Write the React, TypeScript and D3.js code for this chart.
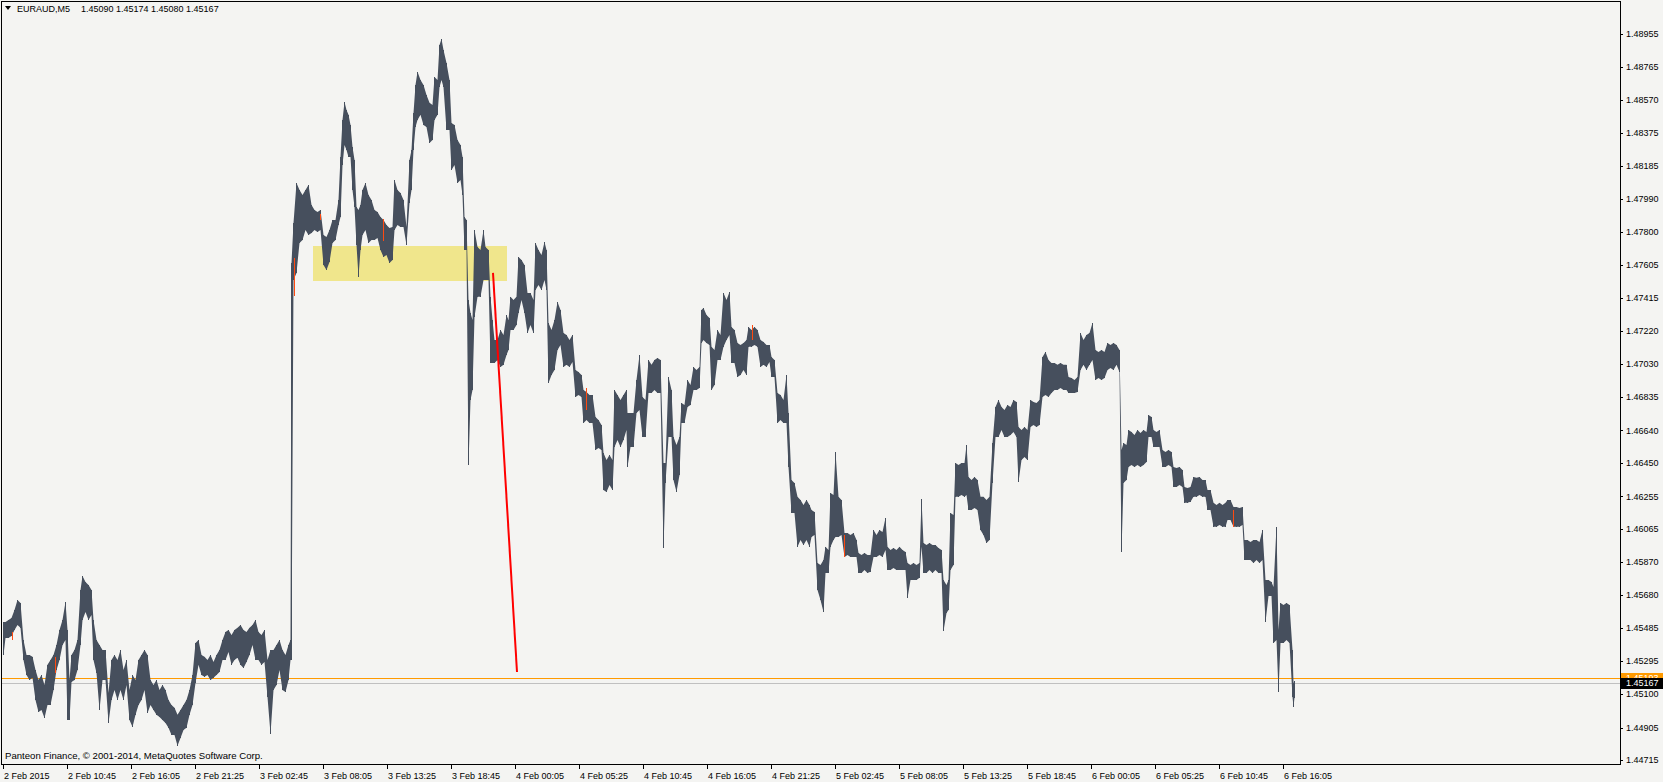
import React from 'react';
import * as d3 from 'd3';

// ---- Data (EURAUD M5, bar index -> high / low) ----
const yTickValues = [1.48955, 1.48765, 1.4857, 1.48375, 1.48185, 1.4799, 1.478, 1.47605, 1.47415, 1.4722, 1.4703, 1.46835, 1.4664, 1.4645, 1.46255, 1.46065, 1.4587, 1.4568, 1.45485, 1.45295, 1.451, 1.44905, 1.44715];
const xTickLabels = ['2 Feb 2015', '2 Feb 10:45', '2 Feb 16:05', '2 Feb 21:25', '3 Feb 02:45', '3 Feb 08:05', '3 Feb 13:25', '3 Feb 18:45', '4 Feb 00:05', '4 Feb 05:25', '4 Feb 10:45', '4 Feb 16:05', '4 Feb 21:25', '5 Feb 02:45', '5 Feb 08:05', '5 Feb 13:25', '5 Feb 18:45', '6 Feb 00:05', '6 Feb 05:25', '6 Feb 10:45', '6 Feb 16:05'];
const barsPerLabel = 64;
const totalBars = 1292;

const barsFeb2: number[][] = [
  [0,1.45521,1.45329],[2,1.45521,1.45428],[5,1.45533,1.45428],[8,1.45545,1.4544],[11,1.45592,1.45475],[14,1.4565,1.45504],[17,1.45632,1.45487],[20,1.45416,1.453],[23,1.45329,1.45212],[26,1.45329,1.45183],[29,1.45318,1.45195],[32,1.45241,1.45066],[35,1.45183,1.44996],[38,1.45212,1.45008],[41,1.45154,1.44961],[44,1.45271,1.45037],[47,1.453,1.45037],[50,1.45329,1.45124],[53,1.45387,1.45241],[56,1.45475,1.453],[59,1.45533,1.45387],[62,1.45638,1.45416],[64,1.45475,1.44949],[66,1.45183,1.44949],[68,1.45329,1.45171],[71,1.45358,1.45183],[74,1.45416,1.45241],[77,1.45708,1.45387],[79,1.4579,1.45533],[82,1.45755,1.4558],[85,1.45738,1.45533],[88,1.45708,1.45562],[90,1.45533,1.453],[93,1.45416,1.45224],[96,1.45387,1.45008],[99,1.45358,1.45183],[102,1.45358,1.45183],[105,1.45107,1.44931],[108,1.453,1.45066],[111,1.45329,1.45124],[114,1.453,1.45066],[117,1.45358,1.45124],[120,1.45241,1.45066],[123,1.453,1.45154],[126,1.45124,1.44949],[129,1.45212,1.44908],[132,1.45183,1.44979],[135,1.453,1.45037],[138,1.45329,1.45066],[141,1.45358,1.45124],[144,1.45329,1.4499],[147,1.45183,1.45037],[150,1.45154,1.45008],[153,1.45183,1.44979],[156,1.45124,1.44967],[159,1.45154,1.44949],[162,1.45124,1.44931],[165,1.45066,1.44903],[168,1.45037,1.44862],[171,1.4502,1.44862],[174,1.44979,1.44798],[177,1.45008,1.44844],[180,1.45037,1.44891],[183,1.45066,1.44903],[186,1.45124,1.44979],[189,1.45212,1.45037],[192,1.45399,1.45165],[195,1.45416,1.45271],[198,1.45329,1.45212],[201,1.45318,1.45201],[204,1.453,1.45212],[207,1.45329,1.45183],[210,1.45288,1.45195],[213,1.45329,1.45212],[216,1.45358,1.4523],[219,1.45416,1.453],[222,1.45463,1.453],[225,1.45475,1.45346],[228,1.45446,1.45271],[231,1.45475,1.453],[234,1.45487,1.45312],[237,1.45504,1.45271],[240,1.45475,1.45253],[243,1.45463,1.45288],[246,1.45487,1.45329],[249,1.45504,1.45387],[252,1.45533,1.453],[255,1.45463,1.453],[258,1.45446,1.45271],[261,1.45475,1.45288],[264,1.453,1.45084],[267,1.45358,1.44867],[270,1.45358,1.45124],[273,1.45387,1.45154],[276,1.45416,1.45241],[279,1.45358,1.45124],[282,1.45329,1.45113],[285,1.45387,1.45183],[287,1.45416,1.453],[288,1.47618,1.453],
];
const barsFeb3: number[][] = [
  [290,1.47852,1.47519],[293,1.48085,1.4756],[296,1.48044,1.47735],[299,1.48015,1.47752],[302,1.48044,1.47811],[305,1.48074,1.47782],[308,1.47957,1.47793],[311,1.47928,1.47811],[314,1.47916,1.47799],[317,1.47928,1.47811],[320,1.47782,1.47606],[323,1.4777,1.47577],[326,1.47811,1.47624],[329,1.47869,1.47735],[332,1.47869,1.47752],[335,1.47986,1.4784],[337,1.48237,1.47887],[339,1.48453,1.4819],[341,1.48558,1.48307],[343,1.48512,1.48278],[345,1.48483,1.48237],[347,1.48424,1.48237],[349,1.48295,1.48044],[351,1.4822,1.47945],[353,1.47945,1.47723],[355,1.47928,1.47536],[357,1.47957,1.47694],[359,1.48044,1.47782],[362,1.48085,1.47811],[365,1.48015,1.47735],[368,1.47986,1.47752],[371,1.47928,1.47752],[374,1.47916,1.47764],[377,1.47887,1.47694],[380,1.47869,1.47653],[383,1.4784,1.47665],[386,1.47822,1.47618],[389,1.47828,1.47636],[391,1.48103,1.47811],[394,1.48044,1.4784],[397,1.48027,1.47828],[400,1.47986,1.47828],[403,1.47828,1.47723],[406,1.4822,1.47968],[408,1.48278,1.48044],[410,1.48494,1.48278],[412,1.48658,1.48412],[414,1.48734,1.48453],[417,1.48687,1.48483],[420,1.48658,1.48424],[423,1.48599,1.48412],[426,1.48553,1.48319],[429,1.48541,1.48336],[431,1.48704,1.48453],[434,1.48687,1.48483],[436,1.48891,1.48646],[438,1.48926,1.48687],[440,1.48862,1.48646],[443,1.48786,1.48395],[446,1.48687,1.48395],[448,1.48436,1.48161],[451,1.48424,1.4819],[454,1.48336,1.48085],[457,1.48307,1.48103],[459,1.48237,1.48015],[461,1.47887,1.47694],[463,1.47869,1.47694],[465,1.47402,1.46438],[467,1.47326,1.46818],[469,1.47285,1.46876],[471,1.47811,1.47303],[474,1.47711,1.4742],[477,1.47694,1.4742],[480,1.47811,1.47519],[482,1.47711,1.47519],[485,1.47694,1.47519],[487,1.4742,1.47034],[489,1.47285,1.47034],[491,1.47168,1.47034],[494,1.47168,1.47052],[497,1.47227,1.47011],[500,1.47198,1.47023],[503,1.47314,1.47081],[505,1.47285,1.4711],[507,1.4742,1.47227],[510,1.47402,1.47227],[513,1.4742,1.47256],[515,1.47653,1.47326],[518,1.47636,1.47402],[521,1.47606,1.47326],[524,1.47443,1.47209],[527,1.47443,1.47256],[530,1.47402,1.47209],[532,1.47735,1.4746],[535,1.47694,1.4749],[538,1.47665,1.4746],[541,1.47741,1.47519],[543,1.47694,1.4746],[545,1.47268,1.46917],[548,1.47227,1.46964],[551,1.47285,1.46993],[554,1.4739,1.4711],[557,1.47344,1.47139],[560,1.47209,1.47011],[563,1.47198,1.47023],[566,1.47168,1.47011],[569,1.47198,1.4704],[572,1.46993,1.46835],[575,1.46981,1.46847],[578,1.46964,1.46835],[580,1.46876,1.46684],[583,1.46864,1.46701],[586,1.46847,1.46684],[589,1.46847,1.46684],[592,1.46719,1.46526],[595,1.46701,1.46538],[598,1.46672,1.46526],[600,1.46508,1.46292],[603,1.46468,1.46281],[606,1.46497,1.46322],[609,1.46468,1.46292],[611,1.46876,1.46543],[614,1.46847,1.46584],[617,1.46818,1.46543],[620,1.46847,1.46584],[623,1.46876,1.46643],[624,1.46742,1.46427],[627,1.46742,1.46543],
];
const barsFeb4: number[][] = [
  [630,1.46742,1.46543],[633,1.46935,1.46742],[636,1.47081,1.4676],[639,1.46835,1.46602],[642,1.46818,1.46602],[645,1.47052,1.46859],[648,1.47023,1.46859],[651,1.47052,1.46876],[654,1.47063,1.46859],[657,1.47052,1.46859],[660,1.4645,1.45954],[662,1.4645,1.46333],[665,1.46952,1.46602],[668,1.46876,1.46602],[670,1.46602,1.46351],[673,1.46555,1.46281],[676,1.46602,1.4638],[678,1.468,1.46684],[681,1.46789,1.46684],[684,1.46935,1.46777],[687,1.46906,1.46789],[690,1.47011,1.46876],[693,1.46993,1.46876],[696,1.47011,1.46888],[698,1.47344,1.47151],[700,1.47355,1.47168],[703,1.47314,1.47151],[706,1.47297,1.47139],[708,1.47128,1.46876],[711,1.4711,1.46906],[714,1.47227,1.47052],[717,1.47198,1.47052],[720,1.47443,1.47128],[723,1.47402,1.47168],[726,1.47449,1.47198],[728,1.47244,1.47034],[731,1.47227,1.47034],[734,1.47151,1.46952],[737,1.47139,1.46964],[740,1.47151,1.46993],[743,1.47168,1.46964],[745,1.47244,1.47128],[748,1.47227,1.47128],[751,1.47244,1.47139],[754,1.47227,1.47128],[757,1.47168,1.47011],[760,1.47157,1.47023],[763,1.47139,1.47011],[766,1.47139,1.4704],[768,1.47069,1.46952],[771,1.47052,1.46952],[774,1.46859,1.46684],[777,1.46847,1.46701],[780,1.46818,1.46684],[783,1.46964,1.46684],[785,1.46742,1.46427],[788,1.46351,1.46158],[791,1.46333,1.46158],[794,1.46252,1.4596],[797,1.46234,1.46],[800,1.46205,1.45971],[803,1.46234,1.46],[806,1.46205,1.4596],[808,1.46176,1.46018],[811,1.46164,1.4603],[814,1.45866,1.45708],[817,1.45854,1.4565],[820,1.45884,1.4558],[822,1.4596,1.45808],[825,1.45942,1.45808],[827,1.46275,1.4596],[830,1.46263,1.46],[832,1.46514,1.46018],[835,1.46252,1.46018],[838,1.46234,1.4603],[841,1.46041,1.45901],[844,1.46041,1.45913],[847,1.4603,1.45901],[850,1.46041,1.45901],[853,1.46,1.45901],[855,1.45924,1.45808],[858,1.45913,1.45808],[861,1.45924,1.45825],[864,1.45913,1.45808],[867,1.45913,1.45814],[870,1.46059,1.45901],[873,1.4603,1.45901],[876,1.46059,1.45913],[879,1.46047,1.45901],[882,1.46129,1.45942],[884,1.4596,1.45825],[887,1.45942,1.45825],[890,1.45954,1.45837],[893,1.45942,1.45825],[896,1.4596,1.45825],[899,1.45942,1.45825],[902,1.4593,1.45825],[904,1.45866,1.45662],[907,1.45854,1.45767],[910,1.45866,1.45767],[913,1.45854,1.45767],[916,1.45866,1.45779],[918,1.4624,1.4596],[920,1.45983,1.45808],[923,1.45971,1.45808],[926,1.45983,1.45825],[929,1.45971,1.45808],[932,1.45971,1.45825],[935,1.45954,1.45808],[938,1.45942,1.45808],[940,1.45767,1.45469],[943,1.45738,1.45574],[945,1.45767,1.45592],[947,1.46158,1.45825],[950,1.46146,1.45854],[952,1.4645,1.46252],[955,1.46438,1.46252],[958,1.4645,1.46263],[961,1.4645,1.46252],[963,1.46555,1.46263],[965,1.46368,1.46176],[968,1.46351,1.46176],[971,1.46368,1.46187],[974,1.46351,1.46176],[977,1.46252,1.46059],[980,1.46252,1.4603],
];
const barsFeb5to6: number[][] = [
  [983,1.46234,1.45983],[986,1.46252,1.46],[989,1.46567,1.46333],[992,1.46777,1.46602],[995,1.46818,1.46602],[998,1.46777,1.46643],[1001,1.4676,1.46602],[1004,1.46789,1.46602],[1007,1.46777,1.46614],[1010,1.46818,1.46631],[1013,1.46806,1.46602],[1015,1.4666,1.46339],[1018,1.46643,1.46468],[1021,1.4666,1.46485],[1024,1.46643,1.46468],[1027,1.46818,1.4666],[1030,1.46806,1.46672],[1033,1.468,1.4666],[1036,1.46818,1.46672],[1039,1.47069,1.46835],[1042,1.47098,1.46847],[1045,1.47052,1.46835],[1048,1.47034,1.46859],[1051,1.47034,1.46876],[1054,1.47023,1.46876],[1057,1.47034,1.46888],[1060,1.47023,1.46876],[1063,1.47023,1.46876],[1065,1.46952,1.46859],[1068,1.46946,1.46859],[1071,1.46935,1.46859],[1074,1.46952,1.46865],[1077,1.47209,1.46993],[1080,1.47168,1.47023],[1083,1.47198,1.46993],[1086,1.47209,1.47023],[1089,1.47268,1.47052],[1092,1.4711,1.46935],[1095,1.47098,1.46946],[1098,1.4711,1.46935],[1101,1.47098,1.46946],[1104,1.47151,1.46993],[1107,1.47139,1.47005],[1110,1.47151,1.46993],[1113,1.47139,1.47023],[1116,1.4711,1.46981],[1118,1.46526,1.4593],[1120,1.46567,1.46333],[1123,1.46555,1.46351],[1125,1.46643,1.46427],[1128,1.46631,1.46438],[1131,1.46614,1.46427],[1134,1.46643,1.46438],[1137,1.46625,1.46427],[1140,1.46643,1.46438],[1143,1.46631,1.46456],[1145,1.4673,1.46602],[1148,1.46719,1.46602],[1150,1.46643,1.46543],[1153,1.46631,1.46543],[1156,1.46643,1.46543],[1159,1.46526,1.46427],[1162,1.46514,1.46427],[1165,1.46526,1.46438],[1168,1.46514,1.46427],[1170,1.46427,1.4631],[1173,1.46421,1.4631],[1176,1.46427,1.46322],[1179,1.46409,1.4631],[1181,1.4631,1.46217],[1184,1.46304,1.46217],[1187,1.4631,1.46223],[1190,1.46368,1.46252],[1193,1.46363,1.46252],[1196,1.46368,1.46263],[1199,1.46351,1.46252],[1202,1.46351,1.46252],[1204,1.46292,1.46176],[1207,1.46292,1.46176],[1210,1.46217,1.46077],[1213,1.46205,1.46077],[1216,1.46217,1.46088],[1219,1.46205,1.46077],[1222,1.46217,1.46077],[1224,1.46234,1.46117],[1227,1.46234,1.46117],[1230,1.46193,1.46077],[1233,1.46193,1.46077],[1236,1.46187,1.46077],[1239,1.46193,1.46088],[1241,1.46,1.45884],[1244,1.46,1.45884],[1247,1.45989,1.45884],[1250,1.46,1.45866],[1253,1.46,1.45884],[1256,1.45989,1.45866],[1259,1.46059,1.45884],[1262,1.45767,1.45521],[1265,1.45767,1.45673],[1268,1.45755,1.45673],[1270,1.45726,1.45399],[1273,1.46077,1.45416],[1275,1.45475,1.45113],[1277,1.45632,1.45399],[1280,1.45621,1.45399],[1283,1.45632,1.45416],[1286,1.45621,1.45399],[1289,1.45358,1.45084],[1290,1.45165,1.45025],[1291,1.45174,1.4508],
];
// bars drawn in the alternate (signal) colour
const signalBars: number[][] = [
  [9,1.45463,1.45416],[52,1.45318,1.45224],[291,1.47647,1.47425],[317,1.47904,1.47869],[380,1.47875,1.47746],[583,1.46888,1.4676],[749,1.47256,1.47168],[841,1.4603,1.45901],[1230,1.46176,1.46077],
];
const zoneBars = [310, 504];
const zonePrices = [1.47717, 1.47513];
const trendBars = [490, 514];
const trendPrices = [1.4756, 1.45229];
const levelPrice = 1.45193;
const bidPrice = 1.45167;
const ohlc = [1.4509, 1.45174, 1.4508, 1.45167];
const symbol = 'EURAUD,M5';
const copyright = 'Panteon Finance, \u00A9 2001-2014, MetaQuotes Software Corp.';

const W = 1663;
const H = 782;
const PL = 1, PT = 1, PR = 1620, PB = 764;
const FONT = "'Liberation Sans', Arial, sans-serif";
const FS = 9;
const BAR = '#464f5d';

export default function App() {
  const x = d3.scaleLinear().domain([0, totalBars]).range([3, 1295]);
  const y = d3.scaleLinear().domain([1.44692, 1.49142]).range([PB, 2]);
  const bars = [...barsFeb2, ...barsFeb3, ...barsFeb4, ...barsFeb5to6];
  const fmt = d3.format('.5f');
  const ribbon = d3.area<number[]>()
    .x((d) => x(d[0]) + 0.5)
    .y0((d) => y(d[2]))
    .y1((d) => y(d[1]))
    .curve(d3.curveLinear);

  return (
    <svg width={W} height={H} style={{ position: 'absolute', left: 0, top: 0, display: 'block' }}>
      <rect x={0} y={0} width={W} height={H} fill="#f4f4f2" />
      {/* rectangle zone (background object) */}
      <rect x={x(zoneBars[0])} y={y(zonePrices[0])} width={x(zoneBars[1]) - x(zoneBars[0])} height={y(zonePrices[1]) - y(zonePrices[0])} fill="#f0e68c" shapeRendering="crispEdges" />
      {/* level lines */}
      <line x1={PL} x2={PR} y1={Math.round(y(bidPrice)) + 0.5} y2={Math.round(y(bidPrice)) + 0.5} stroke="#c0c0c0" strokeWidth={1} shapeRendering="crispEdges" />
      <line x1={PL} x2={PR} y1={Math.round(y(levelPrice)) + 0.5} y2={Math.round(y(levelPrice)) + 0.5} stroke="#ff9a00" strokeWidth={1} shapeRendering="crispEdges" />
      {/* price bars: ribbon between highs and lows + one bar per sample */}
      <path d={ribbon(bars) || ''} fill={BAR} />
      <g fill={BAR} shapeRendering="crispEdges">
        {bars.map((b, k) => {
          const y0 = y(b[1]);
          const h = Math.max(1, y(b[2]) - y0);
          return <rect key={k} x={x(b[0])} y={y0} width={1} height={h} />;
        })}
      </g>
      <g fill="#ff4a10" shapeRendering="crispEdges">
        {signalBars.map((b, k) => (
          <rect key={k} x={x(b[0])} y={y(b[1])} width={1} height={Math.max(1, y(b[2]) - y(b[1]))} />
        ))}
      </g>
      {/* trend line */}
      <line x1={x(trendBars[0])} y1={y(trendPrices[0])} x2={x(trendBars[1])} y2={y(trendPrices[1])} stroke="#ff0000" strokeWidth={2} />
      {/* frame */}
      <rect x={PL + 0.5} y={PT + 0.5} width={PR - PL} height={PB - PT} fill="none" stroke="#000" strokeWidth={1} shapeRendering="crispEdges" />
      {/* right axis */}
      <g fontFamily={FONT} fontSize={FS} fill="#000">
        {yTickValues.map((v) => (
          <g key={v}>
            <line x1={PR} x2={PR + 3} y1={Math.round(y(v)) + 0.5} y2={Math.round(y(v)) + 0.5} stroke="#000" shapeRendering="crispEdges" />
            <text x={PR + 6} y={y(v)} dy="0.35em">{fmt(v)}</text>
          </g>
        ))}
      </g>
      {/* price tags */}
      <rect x={PR + 1} y={Math.round(y(levelPrice)) - 5} width={W - PR - 1} height={11} fill="#ff9a00" shapeRendering="crispEdges" />
      <text x={PR + 6} y={y(levelPrice)} dy="0.35em" fontFamily={FONT} fontSize={FS} fill="#fff">{fmt(levelPrice)}</text>
      <rect x={PR + 1} y={Math.round(y(bidPrice)) - 5} width={W - PR - 1} height={11} fill="#000" shapeRendering="crispEdges" />
      <text x={PR + 6} y={y(bidPrice)} dy="0.38em" fontFamily={FONT} fontSize={FS} fill="#fff">{fmt(bidPrice)}</text>
      {/* bottom axis */}
      <g fontFamily={FONT} fontSize={FS} fill="#000">
        {xTickLabels.map((t, k) => {
          const xv = Math.round(x(k * barsPerLabel)) + 0.5;
          return (
            <g key={t}>
              <line x1={xv} x2={xv} y1={PB} y2={PB + 5} stroke="#000" shapeRendering="crispEdges" />
              <text x={xv + 0.5} y={PB + 15}>{t}</text>
            </g>
          );
        })}
      </g>
      {/* title */}
      <path d="M5,6 L11,6 L8,10 Z" fill="#000" />
      <text x={17} y={12} fontFamily={FONT} fontSize={FS} fill="#000">{symbol}</text>
      <text x={81} y={12} fontFamily={FONT} fontSize={FS} fill="#000">{ohlc.map(fmt).join(' ')}</text>
      <text x={5} y={759} fontFamily={FONT} fontSize={9.6} fill="#000">{copyright}</text>
    </svg>
  );
}
